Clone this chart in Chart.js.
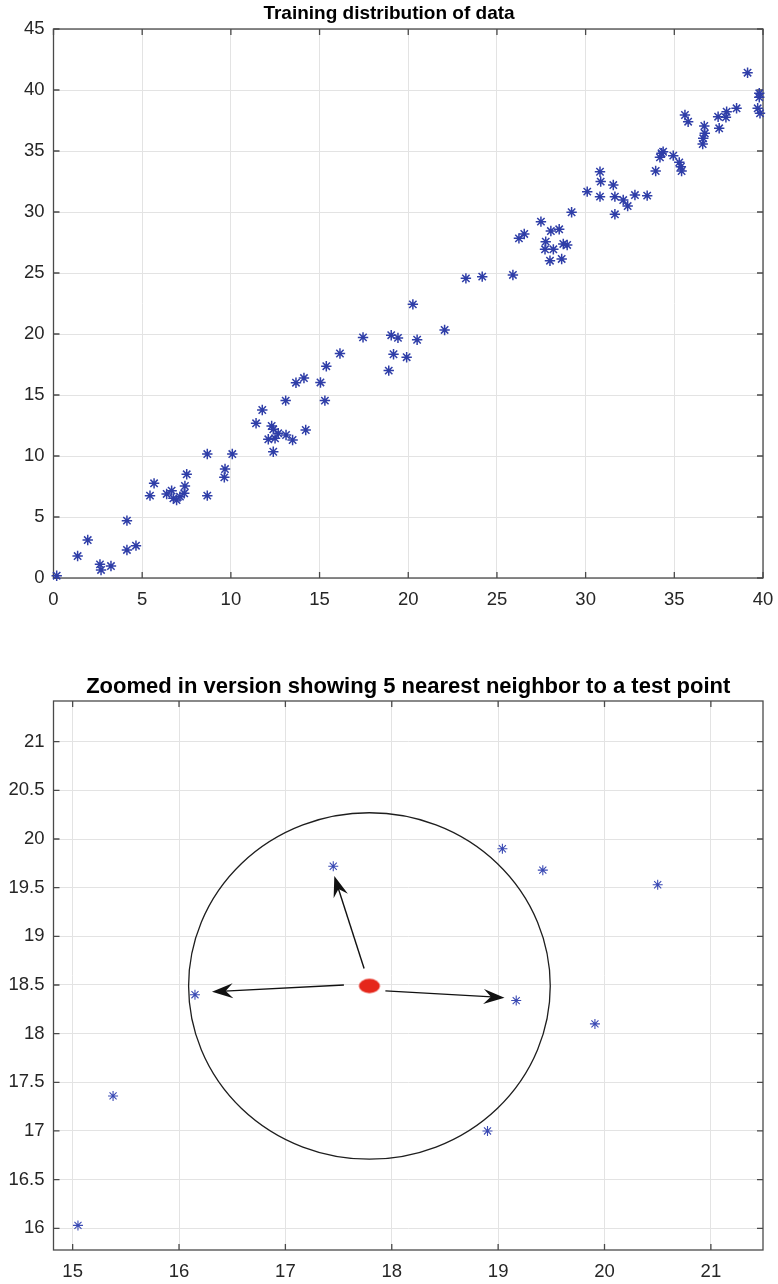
<!DOCTYPE html>
<html><head><meta charset="utf-8">
<script src="https://cdn.jsdelivr.net/npm/chart.js@4/dist/chart.umd.min.js"></script>
<style>
body{margin:0;background:#fff;width:778px;height:1284px;position:relative;overflow:hidden}
#c1{position:absolute;left:0;top:0}
#c2{position:absolute;left:0;top:672px}
</style></head><body>
<canvas id="c1" width="778" height="620"></canvas>
<canvas id="c2" width="778" height="612"></canvas>
<script>
// ---------- data ----------
const title1 = 'Training distribution of data';
const title2 = 'Zoomed in version showing 5 nearest neighbor to a test point';

const trainX = [0.18,1.36,1.93,2.62,2.68,3.24,4.14,4.14,4.65,5.44,5.67,6.38,6.66,6.76,6.94,7.13,7.37,7.41,7.51,8.67,8.67,9.67,9.63,10.08,
  11.42,11.77,12.30,12.39,12.67,12.11,12.49,12.39,13.11,13.48,14.22,13.09,13.67,14.12,15.05,15.30,15.38,16.15,17.45,18.90,19.04,19.42,19.17,19.91,20.50,20.26,22.05,
  23.25,24.17,25.90,26.24,26.54,27.48,28.04,28.51,27.75,27.71,28.18,28.74,28.96,27.99,28.65,29.21,30.09,30.81,30.85,30.81,31.56,31.65,31.65,32.12,32.37,32.78,33.47,
  33.95,34.19,34.37,34.28,34.94,35.28,35.37,35.41,35.60,35.78,36.69,36.72,36.63,36.60,37.47,37.53,37.95,37.91,38.51,39.13,39.79,39.79,39.70,39.83];
const trainY = [0.19,1.80,3.11,1.12,0.66,0.98,4.70,2.30,2.65,6.75,7.76,6.89,7.16,6.53,6.39,6.67,6.94,7.54,8.50,10.16,6.75,8.93,8.25,10.16,
  12.68,13.77,12.46,12.19,11.86,11.37,11.45,10.35,11.72,11.31,12.13,14.54,16.01,16.39,16.03,14.54,17.36,18.40,19.72,17.00,19.90,19.68,18.34,18.10,19.53,22.43,20.33,
  24.56,24.70,24.84,27.84,28.20,29.21,28.44,28.58,27.57,26.94,26.94,27.38,27.30,26.01,26.15,29.98,31.67,33.30,32.49,31.26,32.21,31.26,29.81,30.98,30.49,31.39,31.34,
  33.36,34.48,34.94,34.81,34.62,34.07,33.71,33.36,37.95,37.40,37.05,36.45,36.04,35.57,37.81,36.86,38.22,37.76,38.50,41.42,39.73,39.40,38.50,38.09];

const zoomX = [15.05,15.38,16.15,17.45,18.90,19.04,19.42,19.17,19.91,20.50];
const zoomY = [16.03,17.36,18.40,19.72,17.00,19.90,19.68,18.34,18.10,19.53];

const testX = [17.79];
const testY = [18.49];
const circleR = [1.70, 1.78];           // radius in x and y data units
const arrowFromX = [17.74, 17.55, 17.94];
const arrowFromY = [18.67, 18.50, 18.44];
const arrowToX   = [17.46, 16.31, 19.06];
const arrowToY   = [19.62, 18.43, 18.37];

const topXTicks = [0, 40, 5];  const topYTicks = [0, 45, 5];
const botXRange = [14.82, 21.49, 1]; const botYRange = [15.777, 21.418, 0.5];

// ---------- helpers ----------
const FONT = "'Liberation Sans', Arial, Helvetica, sans-serif";
const starColor = '#2f3ea8';

function toPts(xs, ys){ return xs.map((x,i)=>({x, y: ys[i]})); }

const framePlugin = {
  id: 'frame',
  beforeDatasetsDraw(chart){
    const {ctx, chartArea: a, scales: {x, y}} = chart;
    ctx.save();
    ctx.strokeStyle = '#4a4a4a';
    ctx.lineWidth = 1.3;
    ctx.strokeRect(a.left, a.top, a.right - a.left, a.bottom - a.top);
    const L = 6;
    ctx.beginPath();
    x.ticks.forEach(t => {
      const px = x.getPixelForValue(t.value);
      ctx.moveTo(px, a.bottom); ctx.lineTo(px, a.bottom - L);
      ctx.moveTo(px, a.top); ctx.lineTo(px, a.top + L);
    });
    y.ticks.forEach(t => {
      const py = y.getPixelForValue(t.value);
      ctx.moveTo(a.left, py); ctx.lineTo(a.left + L, py);
      ctx.moveTo(a.right, py); ctx.lineTo(a.right - L, py);
    });
    ctx.stroke();
    ctx.restore();
  }
};

const knnPlugin = {
  id: 'knn',
  beforeDatasetsDraw(chart){
    const {ctx, scales: {x, y}} = chart;
    ctx.save();
    const cx = x.getPixelForValue(testX[0]), cy = y.getPixelForValue(testY[0]);
    const rx = Math.abs(x.getPixelForValue(testX[0] + circleR[0]) - cx);
    const ry = Math.abs(y.getPixelForValue(testY[0] + circleR[1]) - cy);
    ctx.strokeStyle = '#1e1e1e'; ctx.lineWidth = 1.3;
    ctx.beginPath(); ctx.ellipse(cx, cy, rx, ry, 0, 0, Math.PI*2); ctx.stroke();
    for (let i = 0; i < arrowFromX.length; i++) {
      const x0 = x.getPixelForValue(arrowFromX[i]), y0 = y.getPixelForValue(arrowFromY[i]);
      const x1 = x.getPixelForValue(arrowToX[i]), y1 = y.getPixelForValue(arrowToY[i]);
      const len = Math.hypot(x1-x0, y1-y0), dx = (x1-x0)/len, dy = (y1-y0)/len;
      const nx = -dy, ny = dx, HL = 21, HW = 7.5;
      ctx.strokeStyle = '#111'; ctx.fillStyle = '#111'; ctx.lineWidth = 1.4;
      ctx.beginPath(); ctx.moveTo(x0, y0); ctx.lineTo(x1 - dx*HL*0.6, y1 - dy*HL*0.6); ctx.stroke();
      ctx.beginPath();
      ctx.moveTo(x1, y1);
      ctx.lineTo(x1 - dx*HL + nx*HW, y1 - dy*HL + ny*HW);
      ctx.lineTo(x1 - dx*HL*0.65, y1 - dy*HL*0.65);
      ctx.lineTo(x1 - dx*HL - nx*HW, y1 - dy*HL - ny*HW);
      ctx.closePath(); ctx.fill();
    }
    ctx.restore();
  }
};

const fmt = v => String(Number(v.toFixed(3)));

function baseOptions(title, titleSize, titlePad, fullSize, padLeft, xr, yr, xAxisH){
  return {
    responsive: false,
    animation: false,
    layout: { padding: { left: padLeft, right: 15, top: 0, bottom: 0 } },
    plugins: {
      legend: { display: false },
      tooltip: { enabled: false },
      title: { display: true, text: title, color: '#000', fullSize: fullSize,
        font: { family: FONT, size: titleSize, weight: 'bold', lineHeight: 1.2 },
        padding: titlePad }
    },
    scales: {
      x: { type: 'linear', min: xr[0], max: xr[1],
        afterFit(s){ s.height = xAxisH; s.paddingLeft = 0; s.paddingRight = 0; },
        ticks: { stepSize: xr[2], includeBounds: false, color: '#262626', padding: 11,
          font: { family: FONT, size: 18.5 }, maxRotation: 0, callback: fmt },
        grid: { color: '#e3e3e3', lineWidth: 1, drawTicks: false },
        border: { display: false } },
      y: { type: 'linear', min: yr[0], max: yr[1],
        afterFit(s){ s.width = 53.5 - padLeft; s.paddingTop = 0; s.paddingBottom = 0; },
        ticks: { stepSize: yr[2], includeBounds: false, color: '#262626', padding: 9,
          font: { family: FONT, size: 18.5 }, callback: fmt },
        grid: { color: '#e3e3e3', lineWidth: 1, drawTicks: false },
        border: { display: false } }
    }
  };
}

// top chart
new Chart(document.getElementById('c1'), {
  type: 'scatter',
  data: { datasets: [{ data: toPts(trainX, trainY), pointStyle: 'star', radius: 5.2,
    borderColor: starColor, backgroundColor: starColor, borderWidth: 1.5, clip: false }] },
  options: baseOptions(title1, 19, { top: 2.6, bottom: 3.6 }, true, 15, topXTicks, topYTicks, 42),
  plugins: [framePlugin]
});

// red test point image
const dot = document.createElement('canvas');
dot.width = 24; dot.height = 17;
(function(){ const g = dot.getContext('2d');
  g.fillStyle = '#e5271b'; g.beginPath(); g.ellipse(12, 8.5, 10.5, 7.2, 0, 0, Math.PI*2); g.fill(); })();

// bottom chart
new Chart(document.getElementById('c2'), {
  type: 'scatter',
  data: { datasets: [
    { data: toPts(testX, testY), pointStyle: dot, radius: 10, clip: false },
    { data: toPts(zoomX, zoomY), pointStyle: 'star', radius: 5,
      borderColor: '#3a4ab4', backgroundColor: '#3a4ab4', borderWidth: 1.1, clip: false }
  ] },
  options: baseOptions(title2, 22, { top: 1.8, bottom: 0.8 }, false, 0, botXRange, botYRange, 34),
  plugins: [framePlugin, knnPlugin]
});
</script>
</body></html>
